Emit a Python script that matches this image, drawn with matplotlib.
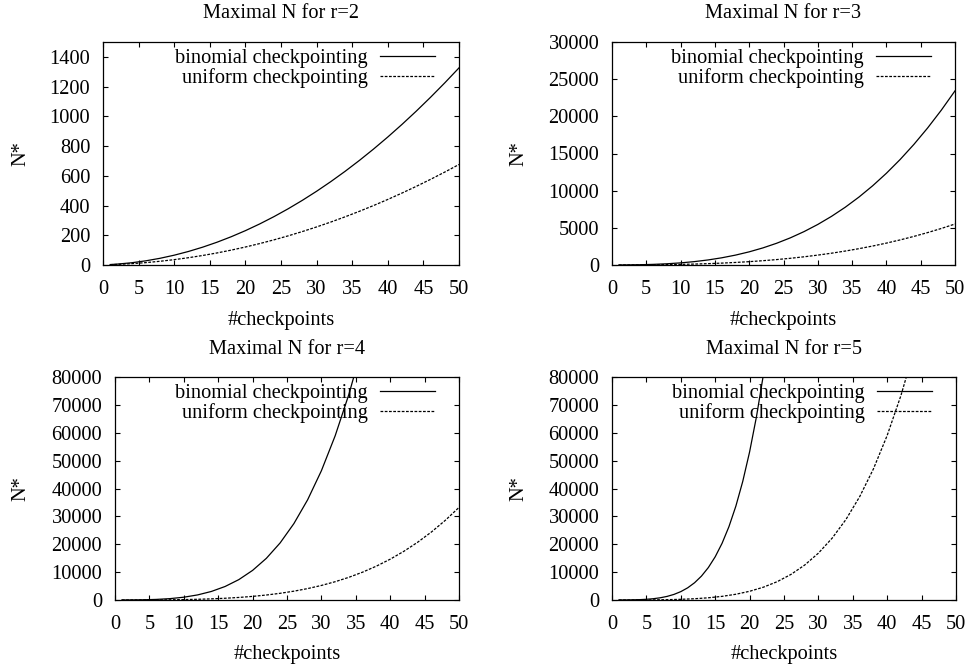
import matplotlib
matplotlib.use("Agg")
import matplotlib.pyplot as plt

plt.rcParams['font.family'] = ['Liberation Serif', 'DejaVu Serif']

# ---- data ----
checkpoints = [1, 2, 4, 6, 8, 10, 12, 14, 16, 18, 20, 22, 24, 26, 28, 30,
               32, 34, 36, 38, 40, 42, 44, 46, 48, 50]
checkpoints_fine = [1, 2, 3, 4, 5, 6, 7, 8, 9, 10, 11, 12, 13, 14, 15, 16,
                    17, 18, 19, 20, 21, 22, 23]

binomial_r2 = [3, 6, 15, 28, 45, 66, 91, 120, 153, 190, 231, 276, 325, 378,
               435, 496, 561, 630, 703, 780, 861, 946, 1035, 1128, 1225, 1326]
uniform_r2 = [2.25, 4, 9, 16, 25, 36, 49, 64, 81, 100, 121, 144, 169, 196,
              225, 256, 289, 324, 361, 400, 441, 484, 529, 576, 625, 676]

binomial_r3 = [4, 10, 35, 84, 165, 286, 455, 680, 969, 1330, 1771, 2300, 2925,
               3654, 4495, 5456, 6545, 7770, 9139, 10660, 12341, 14190, 16215,
               18424, 20825, 23426]
uniform_r3 = [2.37, 4.63, 12.7, 27, 49.3, 81.4, 125, 182, 254, 343, 450.6,
              578.7, 729, 903.3, 1103.3, 1331, 1588, 1876, 2197, 2552.6,
              2944.7, 3375, 3845.3, 4357.3, 4913, 5514]

binomial_r4 = [5, 15, 70, 210, 495, 1001, 1820, 3060, 4845, 7315, 10626, 14950,
               20475, 27405, 35960, 46376, 58905, 73815, 91390, 111930, 135751,
               163185, 194580, 230300, 270725, 316251]
uniform_r4 = [2.44, 5.06, 16, 39.06, 81, 150.06, 256, 410.06, 625, 915.06, 1296,
              1785.06, 2401, 3164.06, 4096, 5220.06, 6561, 8145.06, 10000,
              12155.06, 14641, 17490.06, 20736, 24414.06, 28561, 33215.06]

binomial_r5 = [6, 21, 56, 126, 252, 462, 792, 1287, 2002, 3003, 4368, 6188,
               8568, 11628, 15504, 20349, 26334, 33649, 42504, 53130, 65780,
               80730, 98280]
uniform_r5 = [2.49, 5.38, 18.9, 51.5, 118.8, 243, 454.4, 792.4, 1306.9, 2059.6,
              3125, 4591.6, 6563.6, 9161.3, 12523, 16807, 22190, 28872, 37074,
              47043, 59049, 73390, 90392, 110408, 133823, 161051]

titles = ["Maximal N for r=2", "Maximal N for r=3",
          "Maximal N for r=4", "Maximal N for r=5"]
ylims = [1500, 30000, 80000, 80000]
ysteps = [200, 5000, 10000, 10000]
xticks = [0, 5, 10, 15, 20, 25, 30, 35, 40, 45, 50]
series = [
    (checkpoints, binomial_r2, checkpoints, uniform_r2),
    (checkpoints, binomial_r3, checkpoints, uniform_r3),
    (checkpoints, binomial_r4, checkpoints, uniform_r4),
    (checkpoints_fine, binomial_r5, checkpoints, uniform_r5),
]

# ---- layout (pixels) ----
W, H = 969, 668
boxes = [  # left, right, top, bottom in pixels
    (103, 459, 42, 265),
    (612, 955, 42, 265),
    (115, 459, 377, 600),
    (612, 956, 377, 600),
]
ylabel_x = [21, 519, 21, 519]
xlabel_y = [320, 320, 654, 654]
title_y = [14, 14, 349, 350]

FS = 14.7
fig = plt.figure(figsize=(W / 100, H / 100), dpi=100)

for i in range(4):
    l, r, t, b = boxes[i]
    ax = fig.add_axes([l / W, 1 - b / H, (r - l) / W, (b - t) / H])
    xb, yb, xu, yu = series[i]
    ax.plot(xb, yb, color='black', lw=0.9, label='binomial checkpointing')
    ax.plot(xu, yu, color='black', lw=0.9, linestyle=(0, (2.2, 1.2)),
            label='uniform checkpointing')
    ax.set_xlim(0, 50)
    ax.set_ylim(0, ylims[i])
    ax.set_xticks(xticks)
    yt = list(range(0, ylims[i] + 1, ysteps[i]))
    ax.set_yticks(yt)
    ax.set_yticklabels([str(v) for v in yt])
    ax.tick_params(direction='in', top=True, right=True, length=3.5,
                   width=0.8, labelsize=FS)
    ax.tick_params(axis='x', pad=10.5)
    ax.tick_params(axis='y', pad=9.2)
    for sp in ax.spines.values():
        sp.set_linewidth(0.9)
    ax.set_xlabel('#checkpoints', fontsize=FS, va='center')
    ax.set_ylabel('N*', fontsize=FS, va='center')
    cx = (l + r) / 2 / W
    cy = 1 - (t + b) / 2 / H
    ax.xaxis.set_label_coords(cx, 1 - xlabel_y[i] / H, transform=fig.transFigure)
    ax.yaxis.set_label_coords(ylabel_x[i] / W, cy, transform=fig.transFigure)
    fig.text(cx, 1 - title_y[i] / H, titles[i], fontsize=FS,
             ha='center', va='center')
    axw, axh = r - l, b - t
    ax.legend(loc='upper right', frameon=False, markerfirst=False,
              fontsize=FS, handlelength=2.7, handletextpad=0.6,
              labelspacing=0.0, borderpad=0, borderaxespad=0,
              bbox_to_anchor=(1 - 24 / axw, 1 - 7 / axh))

fig.savefig('out.png', dpi=100)
